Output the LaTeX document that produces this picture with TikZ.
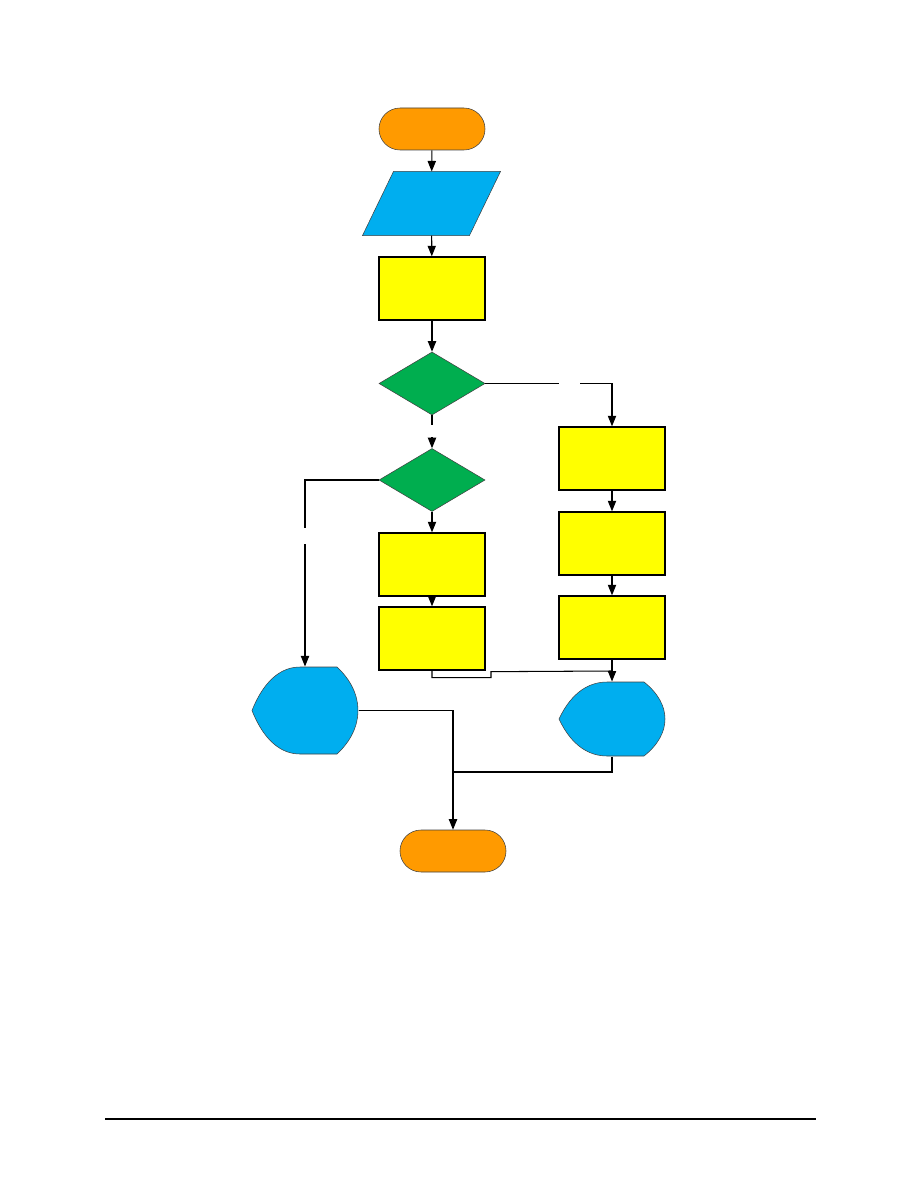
\documentclass[tikz,border=0pt]{standalone}
\usepackage{tikz}
\usetikzlibrary{positioning,arrows.meta,shapes.geometric}
\definecolor{termorange}{HTML}{FF9A00}
\definecolor{ioblue}{HTML}{00AEEF}
\definecolor{procyellow}{HTML}{FFFF00}
\definecolor{decgreen}{HTML}{00AE4F}
\definecolor{edgegray}{HTML}{404040}

% display symbol, drawn round an empty node (#1 = node, #2 = half height)
\newcommand{\dispfill}[2]{%
  \path[shift={(#1.center)},fill=ioblue,draw=edgegray,line width=0.35pt]
    (-53,0) .. controls (-40,-#2*0.75) and (-22,-#2) .. (-5,-#2)
    -- (32,-#2) .. controls (46,-#2*0.7) and (53,-#2*0.35) .. (53,0)
    .. controls (53,#2*0.35) and (46,#2*0.7) .. (32,#2)
    -- (-5,#2) .. controls (-22,#2) and (-40,#2*0.75) .. (-53,0) -- cycle;}

\begin{document}
\begin{tikzpicture}[x=0.6667pt,y=-0.6667pt,>={Triangle[length=7pt,width=5.5pt]},
  line width=0.7pt,
  term/.style={rectangle,rounded corners=14pt,fill=termorange,draw=edgegray,
    line width=0.35pt,minimum width=70.7pt,minimum height=28pt,inner sep=0pt},
  proc/.style={rectangle,fill=procyellow,draw=black,line width=0.9pt,
    minimum width=70.7pt,minimum height=42pt,inner sep=0pt},
  decide/.style={diamond,fill=decgreen,draw=edgegray,line width=0.35pt,
    minimum width=70.7pt,minimum height=42pt,inner sep=0pt},
  slot/.style={rectangle,minimum width=70.7pt,inner sep=0pt},
  gap/.style={fill=white,inner sep=0pt,minimum size=2pt}]
\useasboundingbox (0,0) rectangle (918,1188);

\node[term] (start) at (432,129) {};
\node[slot,minimum width=91.3pt,minimum height=42pt] (inp) at (431.5,203.5) {};
\path[fill=ioblue,draw=edgegray,line width=0.35pt]
  (inp.north west) ++(31,0) -- (inp.north east) -- ([xshift=-20.7pt]inp.south east)
  -- (inp.south west) -- cycle;
\node[proc] (calc) at (432,288.5) {};
\node[decide] (testA) at (432,383.5) {};
\node[decide] (testB) at (432,480) {};
\node[proc] (stepB1) at (432,564.5) {};
\node[proc] (stepB2) at (432,638.5) {};
\node[proc] (stepR1) at (612,458.5) {};
\node[proc] (stepR2) at (612,543.5) {};
\node[proc] (stepR3) at (612,627.5) {};
\node[slot,minimum height=58pt] (showL) at (305,710.5) {};
\dispfill{showL}{43.5}
\node[slot,minimum height=49.3pt] (showR) at (612,719) {};
\dispfill{showR}{37}
\node[term] (stop) at (453,851) {};
\coordinate (meet) at (453,772);

\draw[->] (start) -- (inp);
\draw[->] (inp) -- (calc);
\draw[->] (calc) -- (testA);
\draw[->] (testA) -- (testB) node[gap,minimum height=8pt,pos=0.48] {};
\draw[->] (testA.east) -| (stepR1.north) node[gap,minimum width=14pt,pos=0.333] {};
\draw[->] (testB.west) -| (showL.north) node[gap,minimum height=10.7pt,pos=0.65] {};
\draw[->] (testB) -- (stepB1);
\draw[->] (stepB1) -- (stepB2);
\draw[->] (stepR1) -- (stepR2);
\draw[->] (stepR2) -- (stepR3);
\draw (stepB2.south) -- ++(0,7) -- ++(59,0) -- ++(0,-6) -- (stepR3.south |- 0,671);
\draw[->] (stepR3.south) -- (showR.north);
\draw[->] (showL.east) -| (stop.north);
\draw (showR.south) |- (meet);

\draw[line width=0.8pt] (105,1119) -- (816,1119);
\end{tikzpicture}
\end{document}
